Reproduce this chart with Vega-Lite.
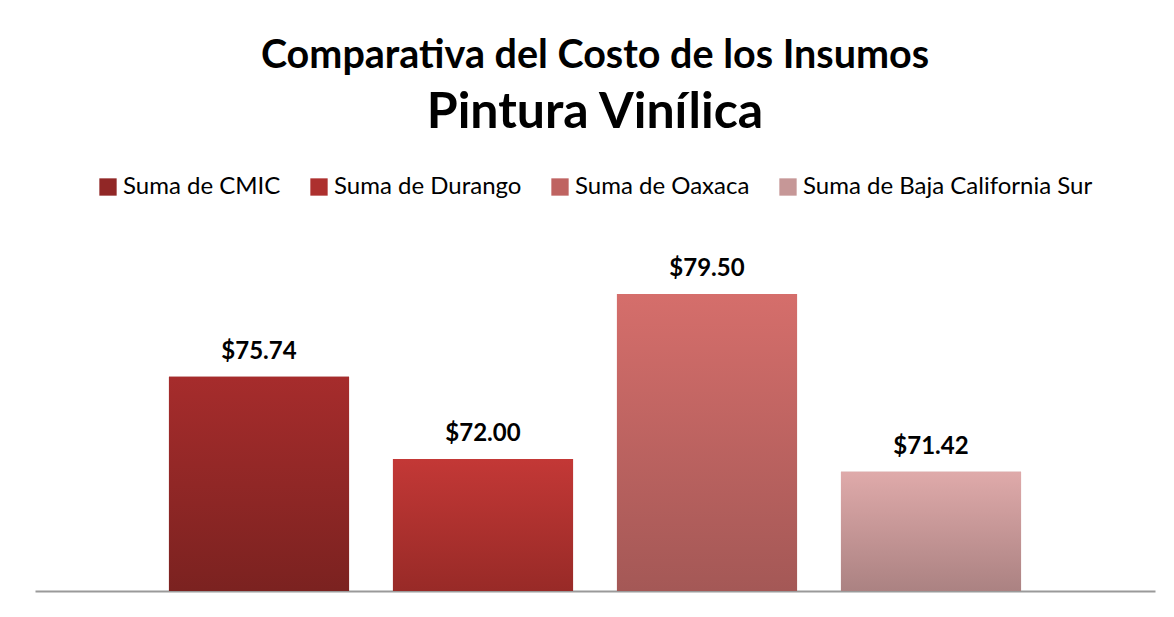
{
  "$schema": "https://vega.github.io/schema/vega-lite/v6.json",
  "width": 1120,
  "height": 352,
  "autosize": {"type": "none"},
  "padding": {"left": 35, "top": 239, "right": 19, "bottom": 26},
  "background": "white",
  "config": {"view": {"stroke": null}},
  "title": {
    "text": "Comparativa del Costo de los Insumos",
    "subtitle": "Pintura Vinílica",
    "anchor": "middle",
    "font": "Lato",
    "fontSize": 39.5,
    "fontWeight": "bold",
    "color": "black",
    "subtitleFont": "Lato",
    "subtitleFontSize": 50,
    "subtitleFontWeight": "bold",
    "subtitleColor": "black",
    "subtitlePadding": 12,
    "offset": 36
  },
  "data": {
    "values": [
      {"serie": "Suma de CMIC", "costo": 75.74},
      {"serie": "Suma de Durango", "costo": 72.0},
      {"serie": "Suma de Oaxaca", "costo": 79.5},
      {"serie": "Suma de Baja California Sur", "costo": 71.42}
    ]
  },
  "encoding": {
    "x": {
      "field": "serie",
      "type": "nominal",
      "sort": null,
      "scale": {"paddingInner": 0.196, "paddingOuter": 0.598},
      "axis": {"title": null, "labels": false, "ticks": false, "domainColor": "#9a9a9a", "domainWidth": 2, "grid": false}
    },
    "y": {
      "field": "costo",
      "type": "quantitative",
      "scale": {"domain": [66, 82], "zero": false, "nice": false},
      "axis": null
    }
  },
  "layer": [
    {
      "mark": {"type": "bar", "clip": true},
      "encoding": {
        "y2": {"datum": 66},
        "color": {
          "field": "serie",
          "type": "nominal",
          "sort": null,
          "scale": {"range": ["#912726", "#ad302e", "#bf6361", "#c69797"]},
          "legend": {
            "title": null,
            "orient": "none",
            "direction": "horizontal",
            "columns": 4,
            "legendX": 61,
            "legendY": -64,
            "symbolType": "square",
            "symbolSize": 300,
            "symbolStrokeWidth": 0,
            "symbolOpacity": 1,
            "labelFont": "Lato",
            "labelFontSize": 24,
            "labelColor": "black",
            "labelOffset": 3,
            "columnPadding": 26,
            "labelLimit": 400
          }
        }
      }
    },
    {
      "mark": {"type": "bar", "clip": true},
      "encoding": {
        "y2": {"datum": 66},
        "color": {
          "condition": [
            {"test": "datum.serie === 'Suma de CMIC'", "value": {"gradient": "linear", "x1": 0, "y1": 0, "x2": 0, "y2": 1, "stops": [{"offset": 0, "color": "#a62c2c"}, {"offset": 1, "color": "#7b2220"}]}},
            {"test": "datum.serie === 'Suma de Durango'", "value": {"gradient": "linear", "x1": 0, "y1": 0, "x2": 0, "y2": 1, "stops": [{"offset": 0, "color": "#c33836"}, {"offset": 1, "color": "#982a27"}]}},
            {"test": "datum.serie === 'Suma de Oaxaca'", "value": {"gradient": "linear", "x1": 0, "y1": 0, "x2": 0, "y2": 1, "stops": [{"offset": 0, "color": "#d56e6b"}, {"offset": 1, "color": "#a45856"}]}}
          ],
          "value": {"gradient": "linear", "x1": 0, "y1": 0, "x2": 0, "y2": 1, "stops": [{"offset": 0, "color": "#dfaaaa"}, {"offset": 1, "color": "#ab8282"}]}
        }
      }
    },
    {
      "mark": {"type": "text", "dy": -18, "baseline": "alphabetic", "font": "Lato", "fontSize": 24, "fontWeight": "bold", "color": "black"},
      "encoding": {
        "text": {"field": "costo", "type": "quantitative", "format": "$.2f"}
      }
    }
  ]
}
